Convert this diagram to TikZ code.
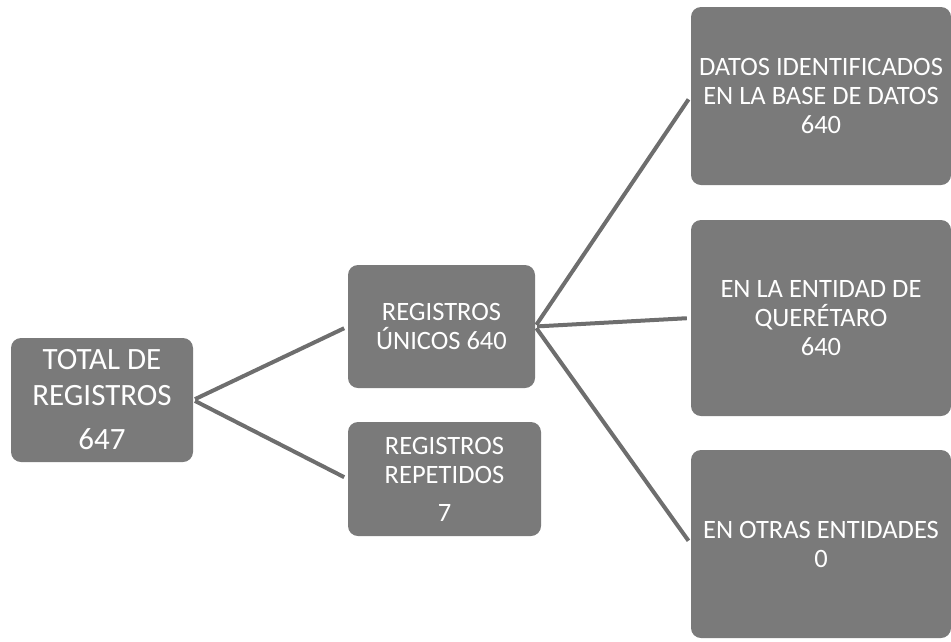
\documentclass[tikz,border=0pt]{standalone}
\usepackage{fontspec}
\setmainfont{Carlito}
\usepackage{tikz}
\definecolor{cajagris}{RGB}{122,122,122}
\definecolor{lineagris}{RGB}{110,110,110}
\tikzset{
  caja/.style={fill=cajagris, rounded corners=10pt, text=white, inner sep=0pt, align=center,
    font=\fontsize{26.5}{29}\selectfont},
  rama/.style={draw=lineagris, line width=4pt, shorten <=2pt, shorten >=4pt}
}

\begin{document}
\begin{tikzpicture}[x=1pt, y=-1pt]
    \useasboundingbox (0,0) rectangle (951,641);

    \node[caja, minimum width=182pt, minimum height=124pt, font=\fontsize{31}{36}\selectfont] (total) at (102,400) {TOTAL DE\\REGISTROS\\[8pt]647};

    \node[caja, minimum width=187pt, minimum height=123pt] (unicos) at (441.5,326.5) {REGISTROS\\ÚNICOS 640};
    \node[caja, minimum width=193pt, minimum height=114pt] (repetidos) at (444.5,479) {REGISTROS\\REPETIDOS\\[9pt]7};
    \draw (total.east) edge[rama] (unicos.west);
    \draw (total.east) edge[rama] (repetidos.west);

    \node[caja, minimum width=260pt, minimum height=178pt] (datos) at (821,96) {DATOS IDENTIFICADOS\\EN LA BASE DE DATOS\\640};
    \node[caja, minimum width=260pt, minimum height=196pt] (queretaro) at (821,318) {EN LA ENTIDAD DE\\QUERÉTARO\\640};
    \node[caja, minimum width=260pt, minimum height=188pt] (otras) at (821,544) {EN OTRAS ENTIDADES\\0};
    \draw (unicos.east) edge[rama] (datos.west);
    \draw (unicos.east) edge[rama] (queretaro.west);
    \draw (unicos.east) edge[rama] (otras.west);
  \end{tikzpicture}
\end{document}
